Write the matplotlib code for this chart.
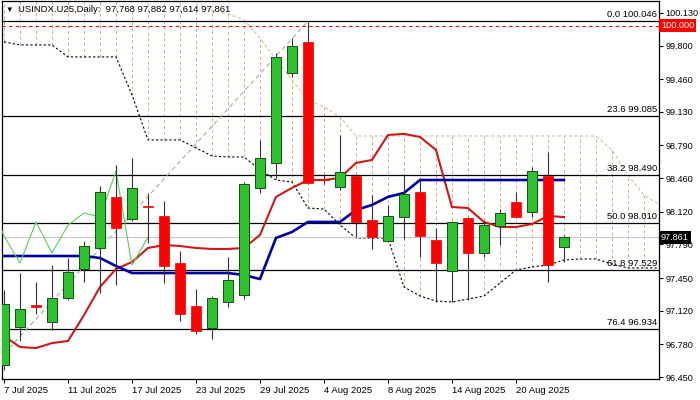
import numpy as np
import pandas as pd
import matplotlib
matplotlib.use('Agg')
import matplotlib.pyplot as plt

plt.rcParams['font.family'] = ['Liberation Sans', 'DejaVu Sans']

# daily bars, 7 Jul .. 25 Aug 2025
dates = pd.bdate_range('2025-07-07', periods=36)

opens = [96.571, 96.955, 97.178, 97.006, 97.248, 97.542, 97.754, 98.270, 98.047, 98.172,
         98.077, 97.602, 97.167, 96.945, 97.208, 97.279, 98.361, 98.613, 99.523, 99.837,
         98.450, 98.371, 98.482, 98.037, 97.825, 98.067, 98.320, 97.835, 97.521, 98.057,
         97.703, 97.976, 98.219, 98.118, 98.482, 97.768]
highs = [97.329, 97.501, 97.410, 97.582, 97.653, 97.825, 98.381, 98.593, 98.664, 98.310,
         98.229, 97.724, 97.339, 97.269, 97.663, 98.421, 98.850, 99.726, 99.877, 100.046,
         98.500, 98.896, 98.500, 98.290, 98.189, 98.492, 98.441, 97.956, 98.030, 98.070,
         98.030, 98.150, 98.320, 98.573, 98.725, 97.882]
lows = [96.520, 96.814, 97.087, 96.925, 97.228, 97.410, 97.299, 97.380, 98.027, 97.804,
        97.400, 97.016, 96.884, 96.834, 97.157, 97.238, 98.310, 98.462, 99.480, 98.400,
        98.400, 98.340, 97.865, 97.744, 97.815, 97.845, 97.663, 97.208, 97.208, 97.228,
        97.663, 97.784, 98.060, 98.067, 97.410, 97.614]
closes = [97.188, 97.137, 97.157, 97.248, 97.511, 97.774, 98.320, 97.956, 98.361, 98.165,
          97.572, 97.087, 96.915, 97.248, 97.430, 98.401, 98.664, 99.685, 99.796, 98.411,
          98.440, 98.522, 98.017, 97.865, 98.077, 98.300, 97.875, 97.602, 98.017, 97.703,
          97.986, 98.108, 98.067, 98.532, 97.582, 97.861]

# ichimoku lines
tenkan = [96.864, 96.753, 96.743, 96.793, 96.814, 97.076, 97.360, 97.542, 97.612, 97.754,
          97.784, 97.774, 97.754, 97.744, 97.744, 97.754, 97.885, 98.270, 98.361, 98.441,
          98.441, 98.462, 98.613, 98.644, 98.896, 98.907, 98.876, 98.745, 98.168, 98.158,
          98.017, 97.966, 97.966, 97.996, 98.077, 98.067]
kijun = [97.673, 97.673, 97.673, 97.673, 97.673, 97.673, 97.653, 97.572, 97.501, 97.501,
         97.501, 97.501, 97.501, 97.501, 97.501, 97.481, 97.440, 97.855, 97.916, 98.017,
         98.017, 98.017, 98.138, 98.189, 98.270, 98.310, 98.441, 98.441, 98.441, 98.441,
         98.441, 98.441, 98.441, 98.441, 98.441, 98.441]
# senkou spans (shifted forward, so they run past the last bar)
span_a = [100.45] * 12 + [100.22, 100.160, 100.120, 100.059, 99.877, 99.655, 99.453,
                          99.250, 99.180, 99.078] + [98.886] * 16 + [98.745, 98.492, 98.290, 98.189]
span_b = [99.837, 99.806, 99.806, 99.806, 99.685, 99.685, 99.685, 99.685, 99.301, 98.846,
          98.846, 98.846, 98.765, 98.684, 98.674, 98.674, 98.543, 98.441, 98.421, 98.158,
          98.148, 97.986, 97.855, 97.855, 97.855, 97.360, 97.269, 97.218, 97.208, 97.238,
          97.269, 97.400, 97.531, 97.562, 97.582, 97.632, 97.643, 97.643, 97.592, 97.552,
          97.552, 97.552]

fib_pcts = [0.0, 23.6, 38.2, 50.0, 61.8, 76.4]
fib_prices = [100.046, 99.085, 98.490, 98.010, 97.529, 96.934]
fib_low, fib_low_bar = 95.974, -4
fib_high, fib_high_bar = 100.046, 19

alert_price = 100.000
bid_price = 97.861
price_ticks = [100.130, 99.800, 99.460, 99.130, 98.790, 98.460, 98.120,
               97.790, 97.450, 97.120, 96.780, 96.450]

fig = plt.figure(figsize=(7, 4), dpi=100)
ax = fig.add_axes([2 / 700, 21 / 400, 657 / 700, 378 / 400])
ax.set_xlim(-0.125, 40.94)
ax.set_ylim(96.43, 100.25)

n = len(closes)
x = np.arange(n)
xf = np.arange(len(span_a))

# cloud as dashed histogram
lo = np.minimum(span_a, span_b)
hi = np.maximum(span_a, span_b)
ax.vlines(xf, lo, hi, colors='#eea36a', linestyles=(0, (3, 3)), linewidth=0.7, zorder=1)
ax.plot(xf, span_a, color='#d6c2a8', linestyle=(0, (3, 2)), linewidth=0.8, zorder=2)
ax.plot(xf, span_b, color='black', linestyle=(0, (2, 2)), linewidth=0.8, zorder=2)

# fibonacci
for pct, pr in zip(fib_pcts, fib_prices):
    ax.axhline(pr, color='black', linewidth=0.9, zorder=2)
    ax.text(1 - 2 / 657, pr + 0.018, f"{pct:.1f} {pr:.3f}", transform=ax.get_yaxis_transform(),
            ha='right', va='bottom', fontsize=6.8, zorder=6)
ax.plot([fib_low_bar, fib_high_bar], [fib_low, fib_high], color='#a8a8a8',
        linestyle=(0, (4, 3)), linewidth=0.8, zorder=2)

ax.axhline(alert_price, color='#ff0000', linestyle=(0, (3, 3)), linewidth=0.8, zorder=2)
ax.axhline(bid_price, color='#c8c8c8', linewidth=0.8, zorder=2)

# tenkan, kijun, chikou
ax.plot(x, tenkan, color='#cc1a1a', linewidth=1.5, zorder=3)
ax.plot(x, kijun, color='#0000a0', linewidth=1.9, zorder=3)
ax.plot(np.arange(-1, 10), closes[25:36], color='#5ecb5e', linewidth=0.8, zorder=3)

# candles
o = np.array(opens)
c = np.array(closes)
up = c >= o
ax.vlines(x, lows, highs, colors='#333333', linewidth=0.8, zorder=4)
body_lo = np.minimum(o, c)
body_h = np.maximum(np.abs(c - o), 0.015)
ax.bar(x[up], body_h[up], bottom=body_lo[up], width=0.62, color='#2ec02e',
       edgecolor='#144f14', linewidth=0.7, zorder=5)
ax.bar(x[~up], body_h[~up], bottom=body_lo[~up], width=0.62, color='#ff0000',
       edgecolor='#ee0000', linewidth=0.5, zorder=5)

# axes
for s in ax.spines.values():
    s.set_linewidth(0.9)
ax.yaxis.tick_right()
ax.set_yticks(price_ticks)
ax.set_yticklabels([f"{t:.3f}" for t in price_ticks])
xt = list(range(0, n, 4))
ax.set_xticks(xt)
ax.set_xticklabels([f"{dates[i].day} {dates[i]:%b %Y}" for i in xt], ha='left')
ax.tick_params(axis='both', direction='out', length=3, width=0.8, labelsize=6.8, pad=2)
ax.tick_params(axis='y', labelsize=6.6, pad=1.5)

# price tags on the axis
ax.text(1.003, alert_price, f"{alert_price:.3f}", transform=ax.get_yaxis_transform(),
        ha='left', va='center', fontsize=6.6, color='white', zorder=7, clip_on=False,
        bbox=dict(boxstyle='square,pad=0.2', fc='#ff0000', ec='none'))
ax.text(1.003, bid_price, f"{bid_price:.3f}", transform=ax.get_yaxis_transform(),
        ha='left', va='center', fontsize=6.6, color='white', zorder=7, clip_on=False,
        bbox=dict(boxstyle='square,pad=0.2', fc='black', ec='none'))

fig.text(9 / 700, 1 - 10 / 400, '\u25bc', fontsize=5.5, ha='center', va='center')
fig.text(18 / 700, 1 - 10 / 400,
         f"USINDX.U25,Daily:  {opens[-1]:.3f} {highs[-1]:.3f} {lows[-1]:.3f} {closes[-1]:.3f}".replace('.', ',').replace('USINDX,U25', 'USINDX.U25'),
         fontsize=6.8, ha='left', va='center')

fig.savefig('out.png', dpi=100)
